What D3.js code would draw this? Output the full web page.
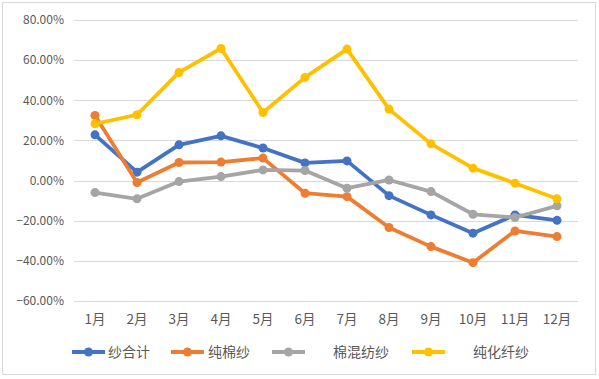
<!DOCTYPE html>
<html><head><meta charset="utf-8">
<script src="https://cdn.jsdelivr.net/npm/d3@7"></script>
<style>body{margin:0;background:#fff;}svg{display:block;}</style>
</head><body>
<svg id="c" width="599" height="379"></svg>
<script>
const months = ["1月","2月","3月","4月","5月","6月","7月","8月","9月","10月","11月","12月"];
const seriesNames = ["纱合计","纯棉纱","棉混纺纱","纯化纤纱"];
const seriesColors = ["#4472C4","#ED7D31","#A5A5A5","#FFC000"];
const yarnTotal = [22.8,4.2,17.8,22.3,16.2,8.8,9.8,-7.5,-17.1,-26.2,-17.1,-19.8];
const pureCotton = [32.4,-1.0,9.0,9.2,11.2,-6.3,-8.0,-23.4,-32.9,-40.9,-25.1,-27.9];
const cottonBlend = [-6.0,-9.1,-0.5,2.0,5.3,5.0,-3.8,0.3,-5.5,-16.8,-18.4,-12.6];
const pureChemical = [28.3,32.8,53.9,65.8,33.9,51.4,65.5,35.6,18.3,6.2,-1.3,-9.1];
const yTicks = [80,60,40,20,0,-20,-40,-60];
const allSeries = [yarnTotal,pureCotton,cottonBlend,pureChemical];

const svg = d3.select("#c");
const font = "'Noto Sans CJK SC','Microsoft YaHei',sans-serif";
svg.append("rect").attr("x",2.5).attr("y",2.5).attr("width",593).attr("height",372)
  .attr("fill","#fff").attr("stroke","#d9d9d9").attr("stroke-width",1);

const x = d3.scaleBand().domain(months).range([74,578]);
const y = d3.scaleLinear().domain([-60,80]).range([301,20]);

const grid = svg.append("g");
grid.selectAll("line").data(yTicks).join("line")
  .attr("x1",74).attr("x2",578)
  .attr("y1",d=>Math.round(y(d))+0.5).attr("y2",d=>Math.round(y(d))+0.5)
  .attr("stroke","#d9d9d9").attr("stroke-width",1);

const yAxis = d3.axisLeft(y).tickValues(yTicks).tickSize(0).tickPadding(0)
  .tickFormat(d=>d3.format(".2f")(d)+"%");
const ya = svg.append("g").attr("transform","translate(64,0)").call(yAxis);
ya.select(".domain").remove();
ya.selectAll("text").attr("fill","#595959").style("font-family",font).style("font-size","12px");

const xAxis = d3.axisBottom(x).tickSize(0).tickPadding(0);
const xa = svg.append("g").attr("transform","translate(0,314)").call(xAxis);
xa.select(".domain").remove();
xa.selectAll("text").attr("fill","#595959").style("font-family",font).style("font-size","13.5px");

const line = d3.line().x((d,i)=>x(months[i])+x.bandwidth()/2).y(d=>y(d));
allSeries.forEach((s,k)=>{
  const g = svg.append("g");
  g.append("path").datum(s).attr("d",line).attr("fill","none")
    .attr("stroke",seriesColors[k]).attr("stroke-width",3.8).attr("stroke-linejoin","round");
  g.selectAll("circle").data(s).join("circle")
    .attr("cx",(d,i)=>x(months[i])+x.bandwidth()/2).attr("cy",d=>y(d))
    .attr("r",4.5).attr("fill",seriesColors[k]);
});

const legendX = [72,171,272,412];
const legendTextX = [108,208,333,473];
const ly = 352;
const lg = svg.append("g");
seriesNames.forEach((n,k)=>{
  lg.append("line").attr("x1",legendX[k]).attr("x2",legendX[k]+33).attr("y1",ly).attr("y2",ly)
    .attr("stroke",seriesColors[k]).attr("stroke-width",3.8);
  lg.append("circle").attr("cx",legendX[k]+16.5).attr("cy",ly).attr("r",4.5).attr("fill",seriesColors[k]);
  lg.append("text").attr("x",legendTextX[k]).attr("y",ly).attr("dy","0.35em")
    .attr("fill","#595959").style("font-family",font).style("font-size","14px").text(n);
});
</script>
</body></html>
